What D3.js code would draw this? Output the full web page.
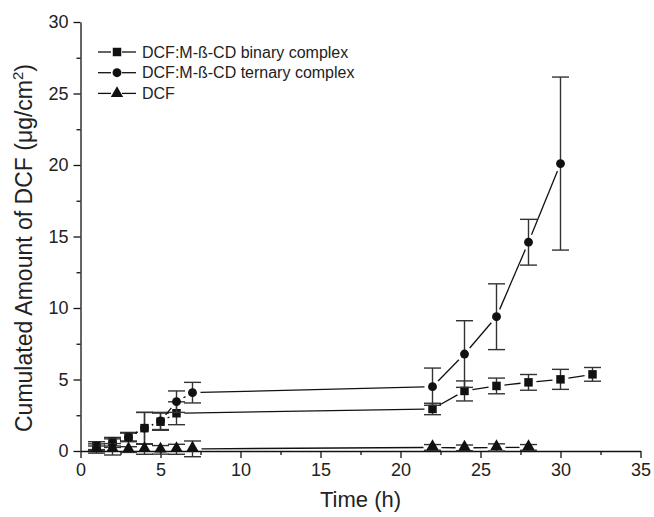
<!DOCTYPE html>
<html>
<head>
<meta charset="utf-8">
<script src="https://cdn.jsdelivr.net/npm/d3@7"></script>
<style>
  html, body { margin: 0; padding: 0; background: #fff; }
  svg { display: block; font-family: "Liberation Sans", Arial, sans-serif; }
</style>
</head>
<body>
<svg id="chart" width="654" height="517"></svg>
<script>
// Release time points (h)
const timeBinary  = [1, 2, 3, 4, 5, 6, 22, 24, 26, 28, 30, 32];
const timeTernary = [1, 2, 3, 4, 5, 6, 7, 22, 24, 26, 28, 30];
const timeDcf     = [1, 2, 3, 4, 5, 6, 7, 22, 24, 26, 28];

// Cumulated amount (µg/cm²) and standard deviations
const binaryValues  = [0.35, 0.65, 1.0, 1.6, 2.05, 2.64, 2.94, 4.2, 4.55, 4.8, 5.01, 5.36];
const binaryErr     = [0.3, 0.3, 0.3, 1.1, 0.6, 0.8, 0.4, 0.7, 0.55, 0.55, 0.7, 0.48];
const ternaryValues = [0.3, 0.55, 0.95, 1.6, 2.1, 3.45, 4.08, 4.5, 6.78, 9.39, 14.6, 20.1];
const ternaryErr    = [0.2, 0.3, 0.3, 1.1, 0.6, 0.75, 0.72, 1.3, 2.33, 2.3, 1.6, 6.05];
const dcfValues     = [0.1, 0.12, 0.1, 0.12, 0.08, 0.12, 0.15, 0.25, 0.22, 0.25, 0.25];
const dcfErr        = [0.25, 0.4, 0.2, 0.35, 0.3, 0.35, 0.55, 0.2, 0.2, 0.25, 0.2];

const seriesNames = ["DCF:M-ß-CD binary complex", "DCF:M-ß-CD ternary complex", "DCF"];
const xTicks = [0, 5, 10, 15, 20, 25, 30, 35];
const yTicks = [0, 5, 10, 15, 20, 25, 30];

const series = [
  { name: seriesNames[0], t: timeBinary,  v: binaryValues,  e: binaryErr,  symbol: d3.symbolSquare,   size: 72, r: 5 },
  { name: seriesNames[1], t: timeTernary, v: ternaryValues, e: ternaryErr, symbol: d3.symbolCircle,   size: 62, r: 5 },
  { name: seriesNames[2], t: timeDcf,     v: dcfValues,     e: dcfErr,     symbol: d3.symbolTriangle, size: 66, r: 6 }
];

const svg = d3.select("#chart");
const x = d3.scaleLinear().domain([0, 35]).range([80.5, 640.5]);
const y = d3.scaleLinear().domain([0, 30]).range([451, 22]);

// Axes: major ticks every 5, minor ticks halfway between
const xMinor = d3.range(2.5, 35, 5);
const yMinor = d3.range(2.5, 30, 5);

const gx = svg.append("g").attr("transform", `translate(0,${y(0)})`);
gx.call(d3.axisBottom(x).tickValues(xTicks).tickSize(7).tickSizeOuter(0).tickPadding(5).tickFormat(d3.format("d")));
gx.append("g").call(d3.axisBottom(x).tickValues(xMinor).tickSize(4).tickFormat(""))
  .select(".domain").remove();

const gy = svg.append("g").attr("transform", `translate(${x(0)},0)`);
gy.call(d3.axisLeft(y).tickValues(yTicks).tickSize(7).tickSizeOuter(0).tickPadding(5).tickFormat(d3.format("d")));
gy.append("g").call(d3.axisLeft(y).tickValues(yMinor).tickSize(4).tickFormat(""))
  .select(".domain").remove();

svg.selectAll(".domain, .tick line").attr("stroke", "#111").attr("stroke-width", 1.3);
svg.selectAll(".tick text").attr("font-size", 18).attr("fill", "#222")
  .attr("font-family", "Liberation Sans, Arial, sans-serif");

// Axis titles
svg.append("text")
  .attr("x", x(17.5)).attr("y", 507)
  .attr("text-anchor", "middle")
  .attr("font-size", 22).attr("fill", "#222")
  .text("Time (h)");

const yTitle = svg.append("text")
  .attr("transform", `translate(32,248) rotate(-90)`)
  .attr("text-anchor", "middle")
  .attr("font-size", 23).attr("fill", "#222");
yTitle.append("tspan").text("Cumulated Amount of DCF (μg/cm");
yTitle.append("tspan").attr("dy", -9).attr("font-size", 15).text("2");
yTitle.append("tspan").attr("dy", 9).text(")");

const plot = svg.append("g");

series.forEach(s => {
  const pts = s.t.map((t, i) => ({ t, v: s.v[i], e: s.e[i] }));

  // Error bars with caps
  const eb = plot.append("g").attr("stroke", "#333").attr("stroke-width", 1.4);
  pts.forEach(p => {
    const cx = x(p.t);
    eb.append("line").attr("x1", cx).attr("x2", cx)
      .attr("y1", y(p.v - p.e)).attr("y2", y(p.v + p.e));
    [p.v - p.e, p.v + p.e].forEach(val => {
      eb.append("line").attr("x1", cx - 8.5).attr("x2", cx + 8.5)
        .attr("y1", y(val)).attr("y2", y(val));
    });
  });

  // Connecting line segments, stopped short of each symbol
  const gap = s.r + 3;
  for (let i = 0; i < pts.length - 1; i++) {
    const x1 = x(pts[i].t), y1 = y(pts[i].v);
    const x2 = x(pts[i + 1].t), y2 = y(pts[i + 1].v);
    const len = Math.hypot(x2 - x1, y2 - y1);
    if (len <= 2 * gap) continue;
    const ux = (x2 - x1) / len, uy = (y2 - y1) / len;
    plot.append("line")
      .attr("x1", x1 + ux * gap).attr("y1", y1 + uy * gap)
      .attr("x2", x2 - ux * gap).attr("y2", y2 - uy * gap)
      .attr("stroke", "#111").attr("stroke-width", 1.3);
  }

  // Symbols
  plot.append("g").selectAll("path").data(pts).join("path")
    .attr("d", d3.symbol().type(s.symbol).size(s.size))
    .attr("transform", d => `translate(${x(d.t)},${y(d.v) + (s.symbol === d3.symbolTriangle ? -1 : 0)})`)
    .attr("fill", "#111");
});

// Legend
const legend = svg.append("g");
series.forEach((s, i) => {
  const ly = 52 + i * 20.7;
  const g = legend.append("g").attr("transform", `translate(98,${ly})`);
  g.append("line").attr("x1", 0).attr("x2", 13).attr("stroke", "#111").attr("stroke-width", 1.3);
  g.append("line").attr("x1", 24).attr("x2", 38).attr("stroke", "#111").attr("stroke-width", 1.3);
  g.append("path").attr("d", d3.symbol().type(s.symbol).size(s.size)())
    .attr("transform", "translate(19,0)")
    .attr("fill", "#111");
  g.append("text").attr("x", 44).attr("y", 0).attr("dy", "0.36em")
    .attr("font-size", 16).attr("fill", "#222").text(s.name);
});
</script>
</body>
</html>
